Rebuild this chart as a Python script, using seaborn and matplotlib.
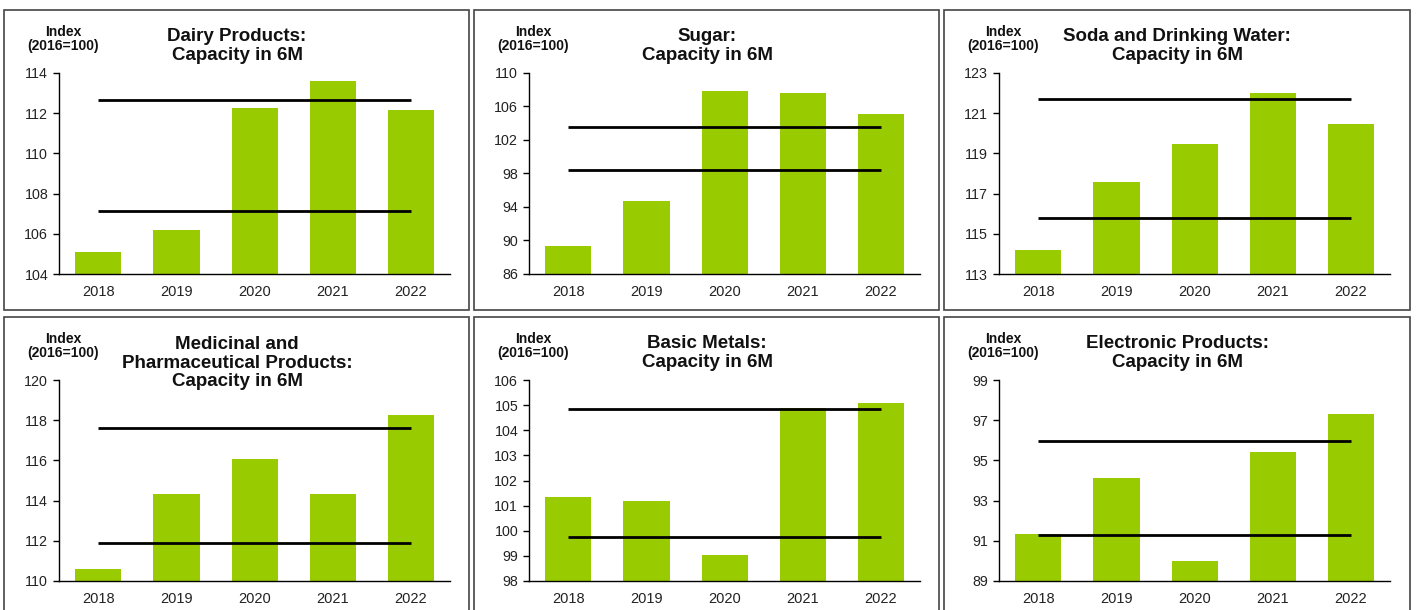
import matplotlib
matplotlib.use("Agg")
import matplotlib.pyplot as plt
from matplotlib.patches import Rectangle
import seaborn as sns

sns.set_style("white")
plt.rcParams['font.family'] = ['Liberation Sans', 'DejaVu Sans']

years = ["2018", "2019", "2020", "2021", "2022"]

dairy = [105.1, 106.2, 112.28, 113.62, 112.15]
dairy_lines = [112.64, 107.15]
dairy_ticks = [104, 106, 108, 110, 112, 114]

sugar = [89.3, 94.66, 107.9, 107.65, 105.07]
sugar_lines = [103.5, 98.4]
sugar_ticks = [86, 90, 94, 98, 102, 106, 110]

soda = [114.21, 117.59, 119.47, 122.02, 120.45]
soda_lines = [121.73, 115.78]
soda_ticks = [113, 115, 117, 119, 121, 123]

medic = [110.61, 114.31, 116.09, 114.34, 118.28]
medic_lines = [117.61, 111.87]
medic_ticks = [110, 112, 114, 116, 118, 120]

metals = [101.36, 101.17, 99.03, 104.87, 105.07]
metals_lines = [104.86, 99.75]
metals_ticks = [98, 99, 100, 101, 102, 103, 104, 105, 106]

electro = [91.32, 94.12, 90.01, 95.4, 97.31]
electro_lines = [95.98, 91.31]
electro_ticks = [89, 91, 93, 95, 97, 99]

titles = ["Dairy Products:\nCapacity in 6M",
          "Sugar:\nCapacity in 6M",
          "Soda and Drinking Water:\nCapacity in 6M",
          "Medicinal and\nPharmaceutical Products:\nCapacity in 6M",
          "Basic Metals:\nCapacity in 6M",
          "Electronic Products:\nCapacity in 6M"]

panels = [(dairy, dairy_lines, dairy_ticks), (sugar, sugar_lines, sugar_ticks),
          (soda, soda_lines, soda_ticks), (medic, medic_lines, medic_ticks),
          (metals, metals_lines, metals_ticks), (electro, electro_lines, electro_ticks)]

W, H = 1416, 610
fig = plt.figure(figsize=(W / 100, H / 100), dpi=100)
fig.patch.set_facecolor("white")

green = "#99CC00"

for i, (vals, lines, ticks) in enumerate(panels):
    col, row = i % 3, i // 3
    ox = 470 * col
    oy = 0 if row == 0 else 307
    # panel frame
    bx0, bx1 = ox + 4, ox + (469 if col < 2 else 470)
    by0, by1 = (10, 310) if row == 0 else (317, 620)
    fig.patches.append(Rectangle((bx0 / W, 1 - by1 / H), (bx1 - bx0) / W, (by1 - by0) / H,
                                 transform=fig.transFigure, fill=False,
                                 edgecolor="#444444", lw=1.2, zorder=0))

    ax_top, ax_bot = oy + 73, oy + 274
    ax_l, ax_r = ox + 59.3, ox + 450
    ax = fig.add_axes([ax_l / W, 1 - ax_bot / H, (ax_r - ax_l) / W, (ax_bot - ax_top) / H])
    ax.patch.set_alpha(0)

    sns.barplot(x=years, y=vals, color=green, width=0.59, saturation=1,
                edgecolor="none", ax=ax)
    for v in lines:
        ax.hlines(v, 0, len(years) - 1, color="black", lw=2, zorder=5)

    ax.set_xlim(-0.5, len(years) - 0.5)
    ax.set_ylim(ticks[0], ticks[-1])
    ax.set_yticks(ticks)
    ax.set_xticks(range(len(years)))
    ax.set_xticklabels(years)
    ax.set_xticks([k - 0.5 for k in range(len(years) + 1)], minor=True)
    ax.tick_params(axis="x", which="major", length=0, pad=8, labelsize=10.5, labelcolor="#222222")
    ax.tick_params(axis="x", which="minor", length=4, width=1, color="black", direction="out")
    ax.tick_params(axis="y", length=4, width=1, color="black", direction="out",
                   labelsize=10.3, labelcolor="#222222", pad=4, left=True)
    ax.set_xlabel("")
    ax.set_ylabel("")
    for s in ["top", "right"]:
        ax.spines[s].set_visible(False)
    for s in ["left", "bottom"]:
        ax.spines[s].set_color("black")
        ax.spines[s].set_linewidth(1)

    fig.text((ox + 63) / W, 1 - (oy + 39) / H, "Index\n(2016=100)", ha="center", va="center",
             fontsize=10, fontweight="bold", color="#111111", linespacing=1.05)
    n_lines = titles[i].count("\n") + 1
    cy = oy + (46 if n_lines == 2 else 56)
    fig.text((ox + 237) / W, 1 - cy / H, titles[i], ha="center", va="center",
             fontsize=13.5, fontweight="bold", color="#111111", linespacing=1.12)

fig.savefig("out.png", dpi=100, facecolor="white")
